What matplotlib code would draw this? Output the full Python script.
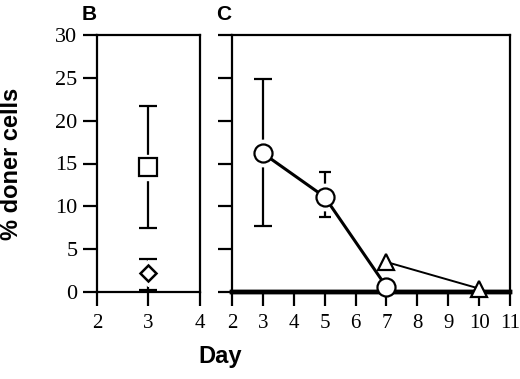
import numpy as np
import matplotlib
matplotlib.use('Agg')
import matplotlib.pyplot as plt

plt.rcParams['font.family'] = 'Liberation Serif'

# panel B (day 3 only)
b_day = [3]
b_square = [14.6]
b_square_lo = [7.5]
b_square_hi = [21.7]
b_diamond = [2.2]
b_diamond_lo = [0.2]
b_diamond_hi = [3.9]

# panel C
c_circ_days = [3, 5, 7]
c_circ = [16.2, 11.1, 0.6]
c_circ_lo = [7.7, 8.7, 0.6]
c_circ_hi = [24.9, 14.0, 0.6]
c_tri_days = [7, 10]
c_tri = [3.5, 0.4]
c_zero_days = [2, 11]
c_zero = [0, 0]

yticks = [0, 5, 10, 15, 20, 25, 30]

W, H = 520, 379
fig = plt.figure(figsize=(W / 100, H / 100), dpi=100)
axB = fig.add_axes([97 / W, 1 - 292 / H, 103 / W, 257 / H])
axC = fig.add_axes([232 / W, 1 - 292 / H, 278 / W, 257 / H])


def style(ax, xt):
    ax.set_ylim(0, 30)
    ax.set_yticks(yticks)
    ax.set_xticks(xt)
    ax.set_xlim(xt[0], xt[-1])
    for s in ax.spines.values():
        s.set_linewidth(1.6)
    ax.tick_params(direction='out', length=10, width=1.6, labelsize=16,
                   pad=4)
    ax.tick_params(axis='x', pad=6, labelsize=15)


def errbar(ax, x, y, lo, hi, cap):
    y = np.array(y)
    ax.errorbar(x, y, yerr=[y - np.array(lo), np.array(hi) - y], fmt='none',
                ecolor='black', elinewidth=1.6, capsize=cap, capthick=1.6,
                zorder=1, clip_on=False)


style(axB, [2, 3, 4])
errbar(axB, b_day, b_square, b_square_lo, b_square_hi, 6.5)
errbar(axB, b_day, b_diamond, b_diamond_lo, b_diamond_hi, 6.5)
axB.plot(b_day, b_square, 's', ms=18, mfc='white', mec='white', zorder=2)
axB.plot(b_day, b_square, 's', ms=12.5, mfc='white', mec='black', mew=1.6,
         zorder=4)
axB.plot(b_day, b_diamond, 'D', ms=13, mfc='white', mec='white', zorder=2)
axB.plot(b_day, b_diamond, 'D', ms=8.5, mfc='white', mec='black', mew=1.8,
         zorder=4)
axB.set_ylabel('% doner cells', family='Liberation Sans', fontweight='bold',
               fontsize=17)
axB.yaxis.set_label_coords(-0.72, 0.5)

style(axC, list(range(2, 12)))
axC.set_yticklabels([])
axC.spines['bottom'].set_linewidth(3.2)
axC.plot(c_zero_days, c_zero, '-', color='black', lw=3.2, zorder=1,
         clip_on=False)
# caps of different width
for i, cap in enumerate([6.5, 4.5]):
    errbar(axC, [c_circ_days[i]], [c_circ[i]], [c_circ_lo[i]],
           [c_circ_hi[i]], cap)
axC.plot(c_circ_days[:2], c_circ[:2], 'o', ms=19, mfc='white', mec='white',
         zorder=2)
axC.plot(c_circ_days, c_circ, 'o-', color='black', lw=2.2, ms=13,
         mfc='white', mec='black', mew=1.6, zorder=4, clip_on=False)
axC.plot(c_tri_days, c_tri, '^-', color='black', lw=1.4, ms=12,
         mfc='white', mec='black', mew=1.6, zorder=3, clip_on=False)

fig.text(82 / W, 1 - 20 / H, 'B', family='Liberation Sans',
         fontweight='bold', fontsize=15, ha='left', va='baseline')
fig.text(216 / W, 1 - 20 / H, 'C', family='Liberation Sans',
         fontweight='bold', fontsize=15, ha='left', va='baseline')
fig.text(220 / W, 1 - 357 / H, 'Day', family='Liberation Sans',
         fontweight='bold', fontsize=17, ha='center', va='center')

fig.savefig('out.png', dpi=100)
